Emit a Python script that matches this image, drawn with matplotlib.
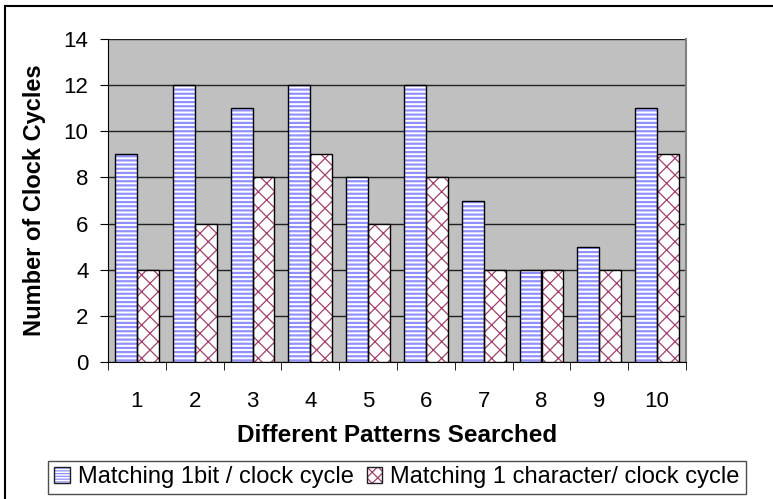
import matplotlib
matplotlib.use("Agg")
import matplotlib.pyplot as plt
import numpy as np
from matplotlib.patches import Rectangle
from matplotlib.lines import Line2D
from matplotlib.legend_handler import HandlerTuple

plt.rcParams['font.family'] = ['Liberation Sans', 'DejaVu Sans']

patterns = ["1", "2", "3", "4", "5", "6", "7", "8", "9", "10"]
bit_cycles = [9, 12, 11, 12, 8, 12, 7, 4, 5, 11]
char_cycles = [4, 6, 8, 9, 6, 8, 4, 4, 4, 9]
labels = ["Matching 1bit / clock cycle", "Matching 1 character/ clock cycle"]

blue = "#9090ff"
red = "#a04070"

W, H = 773, 499
fig = plt.figure(figsize=(W / 100, H / 100), dpi=100)
# outer frame (only left and top edges visible in the crop)
fig.add_artist(Line2D([5 / W, 5 / W], [0, 1 - 6 / H], color="black", lw=1.5))
fig.add_artist(Line2D([5 / W, 1], [1 - 6 / H, 1 - 6 / H], color="black", lw=1.5))

ax = fig.add_axes([108 / W, 1 - 362 / H, 578 / W, 323 / H])
ax.set_facecolor("#c0c0c0")

x = np.arange(len(patterns))
w = 0.38

plt.rcParams['hatch.linewidth'] = 1.6
ax.bar(x - w / 2, bit_cycles, w, color="white", edgecolor=blue, hatch="----", linewidth=0, zorder=3)
plt.rcParams['hatch.linewidth'] = 0.9
ax.bar(x + w / 2, char_cycles, w, color="white", edgecolor=red, hatch="xx", linewidth=0, zorder=3)
ax.bar(x - w / 2, bit_cycles, w, fill=False, edgecolor="black", linewidth=1, zorder=4)
ax.bar(x + w / 2, char_cycles, w, fill=False, edgecolor="black", linewidth=1, zorder=4)

ax.set_ylim(0, 14)
ax.set_yticks(range(0, 15, 2))
ax.set_xlim(-0.5, len(patterns) - 0.5)
ax.set_xticks(x)
ax.set_xticklabels(patterns)
ax.set_xticks(np.arange(-0.5, len(patterns)), minor=True)
ax.tick_params(axis="x", which="major", length=0, labelsize=16, pad=21)
ax.tick_params(axis="x", which="minor", length=6, direction="out")
ax.tick_params(axis="y", length=6, direction="out", labelsize=16, pad=8)
ax.yaxis.grid(True, color="#202020", linewidth=1, zorder=1)
ax.set_axisbelow(True)
ax.spines["top"].set_visible(False)
ax.spines["right"].set_color("#808080")
ax.spines["right"].set_linewidth(1.5)

ax.set_xlabel("Different Patterns Searched", fontsize=17.5, fontweight="bold", va="center")
ax.xaxis.set_label_coords(0.5, -(435 - 362) / 323)
ax.set_ylabel("Number of Clock Cycles", fontsize=17, fontweight="bold", va="center")
ax.yaxis.set_label_coords(-(108 - 35) / 578, 0.5)

# legend handles: hatched square plus a dark outline, drawn on top of each other
plt.rcParams['hatch.linewidth'] = 1.2
h1 = Rectangle((0, 0), 1, 1, facecolor="white", edgecolor=blue, hatch="------", linewidth=0)
plt.rcParams['hatch.linewidth'] = 0.9
h2 = Rectangle((0, 0), 1, 1, facecolor="white", edgecolor=red, hatch="xxx", linewidth=0)
o1 = Rectangle((0, 0), 1, 1, fill=False, edgecolor="#202020", linewidth=1)
o2 = Rectangle((0, 0), 1, 1, fill=False, edgecolor="#202020", linewidth=1)
leg = fig.legend([(h1, o1), (h2, o2)], labels, loc="center", bbox_to_anchor=(397 / W, 1 - 477.5 / H),
                 ncol=2, fontsize=17, frameon=True, fancybox=False, edgecolor="#202020",
                 handlelength=0.65, handleheight=0.65, handletextpad=0.35, columnspacing=0.55,
                 borderpad=0.25, handler_map={tuple: HandlerTuple(ndivide=1, pad=0)})
leg.get_frame().set_linewidth(1)

fig.savefig("out.png", dpi=100)
